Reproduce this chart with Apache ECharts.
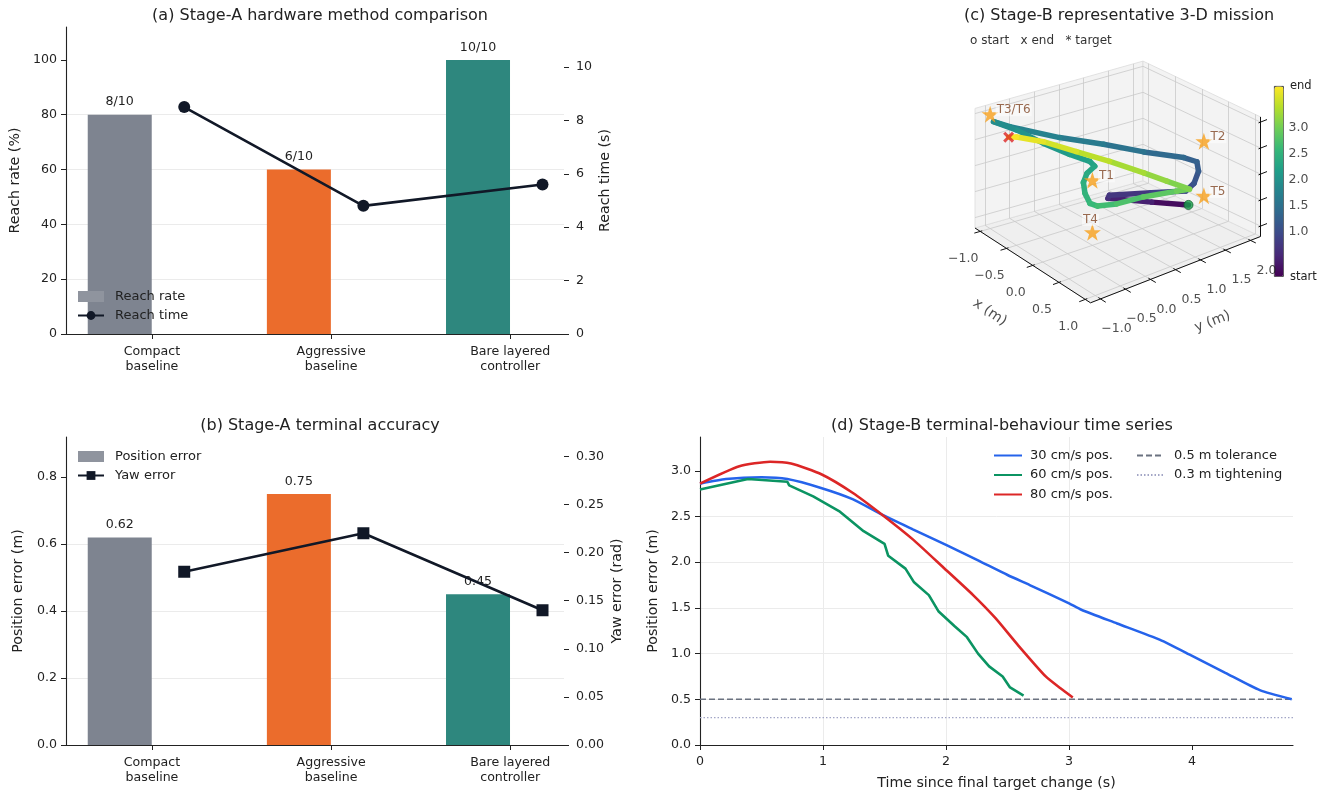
<!DOCTYPE html>
<html><head><meta charset="utf-8">
<script src="https://cdn.jsdelivr.net/npm/echarts@6/dist/echarts.min.js"></script>
<style>html,body{margin:0;padding:0;background:#fff}#c{width:1326px;height:796px}</style>
</head><body><div id="c"></div>
<script>
// ---------------- data: panels (a) and (b) ----------------
const METHODS = ['Compact\nbaseline', 'Aggressive\nbaseline', 'Bare layered\ncontroller'];
const REACH_RATE = [80, 60, 100];
const REACH_LABELS = ['8/10', '6/10', '10/10'];
const REACH_TIME = [8.5, 4.8, 5.6];
const POS_ERR = [0.62, 0.75, 0.45];
const YAW_ERR = [0.18, 0.22, 0.14];
const BAR_COLORS = ['#7e8490', '#eb6c2c', '#2e877e'];
const RATE_TICKS = [0, 20, 40, 60, 80, 100];
const TIME_TICKS = [0, 2, 4, 6, 8, 10];
const POS_TICKS = [0, 0.2, 0.4, 0.6, 0.8];
const YAW_TICKS = [0, 0.05, 0.10, 0.15, 0.20, 0.25, 0.30];

// ---------------- data: panel (d) ----------------
const T30 = [0, 0.21, 0.5, 0.71, 0.99, 1.24, 1.48, 1.73, 2.0, 2.26, 2.5, 2.68, 3.0, 3.1, 3.39, 3.74, 4.0, 4.27, 4.55, 4.81];
const E30 = [2.86, 2.91, 2.93, 2.91, 2.81, 2.69, 2.52, 2.36, 2.19, 2.02, 1.86, 1.75, 1.55, 1.48, 1.33, 1.15, 0.975, 0.79, 0.60, 0.50];
const T60 = [0, 0.39, 0.71, 0.725, 0.92, 1.13, 1.33, 1.50, 1.53, 1.67, 1.74, 1.86, 1.94, 2.07, 2.17, 2.26, 2.35, 2.46, 2.52, 2.63];
const E60 = [2.795, 2.91, 2.88, 2.84, 2.72, 2.56, 2.34, 2.20, 2.07, 1.93, 1.78, 1.64, 1.46, 1.30, 1.18, 1.00, 0.86, 0.75, 0.63, 0.54];
const T80 = [0, 0.32, 0.57, 0.74, 0.99, 1.24, 1.48, 1.73, 1.98, 2.22, 2.40, 2.58, 2.81, 2.93, 3.03];
const E80 = [2.86, 3.05, 3.10, 3.08, 2.96, 2.76, 2.52, 2.25, 1.94, 1.64, 1.39, 1.10, 0.75, 0.62, 0.52];
const TOLERANCE = 0.5;
const TIGHTENING = 0.3;
const D_TIME_MAX = 4.82;
const D_ERR_MAX = 3.37;
const D_X_TICKS = [0, 1, 2, 3, 4];
const D_Y_TICKS = [0, 0.5, 1.0, 1.5, 2.0, 2.5, 3.0];

// ---------------- data: panel (c) 3-D mission ----------------
const XLIM = [-1.1, 1.1], YLIM = [-1.2, 2.2], ZLIM = [0.8, 3.1];
const X_TICKS = [-1.0, -0.5, 0.0, 0.5, 1.0];
const Y_TICKS = [-1.0, -0.5, 0.0, 0.5, 1.0, 1.5, 2.0];
const Z_TICKS = [1.0, 1.5, 2.0, 2.5, 3.0];
const TRAJ = [
  [0.62, 1.27, 1.50], [0.37, 0.80, 1.58], [0.05, 0.26, 1.65], [0.05, 0.29, 1.70],
  [0.41, 0.75, 1.80], [0.72, 1.11, 1.88], [0.79, 1.20, 2.03], [0.79, 1.29, 2.23],
  [0.74, 1.31, 2.38], [0.67, 1.12, 2.49], [0.37, 0.64, 2.60], [0.03, 0.19, 2.70],
  [-0.32, -0.32, 2.78], [-0.72, -0.90, 2.91], [-0.86, -1.08, 2.97], [-0.66, -0.82, 2.86],
  [-0.37, -0.59, 2.72], [-0.11, -0.34, 2.59], [0.07, -0.13, 2.50], [0.10, -0.06, 2.40],
  [0.03, -0.14, 2.25], [-0.02, -0.16, 2.05], [0.00, -0.15, 1.85], [0.03, -0.08, 1.65],
  [0.04, 0.06, 1.56], [0.13, 0.35, 1.56], [0.22, 0.79, 1.60], [0.38, 1.29, 1.63],
  [0.48, 1.44, 1.67], [0.38, 1.09, 1.89], [0.21, 0.81, 2.05], [-0.06, 0.41, 2.25],
  [-0.34, 0.04, 2.39], [-0.62, -0.33, 2.52], [-0.79, -0.69, 2.61], [-0.78, -0.86, 2.66]
];
const TRAJ_PROGRESS = [0.00, 0.06, 0.12, 0.14, 0.18, 0.22, 0.25, 0.28, 0.30, 0.32, 0.36, 0.40,
  0.43, 0.46, 0.48, 0.50, 0.52, 0.55, 0.57, 0.58, 0.60, 0.62, 0.64, 0.66, 0.68, 0.70, 0.73,
  0.76, 0.79, 0.82, 0.85, 0.88, 0.92, 0.95, 0.98, 1.00];
const TARGET_NAMES = ['T1', 'T2', 'T3/T6', 'T4', 'T5'];
const TARGETS = [[0, 0, 2.05], [0.6, 1.6, 2.6], [-1.0, -1.0, 3.0], [0, 0, 1.05], [0.6, 1.6, 1.55]];
const START = [0.62, 1.27, 1.50];
const END = [-0.78, -0.86, 2.66];
const VIRIDIS = ['#440154', '#482878', '#3e4989', '#31688e', '#26828e', '#1f9e89', '#35b779', '#6ece58', '#b5de2b', '#fde725'];

// ---------------- projection (view of the 3-D box, with a small far-corner foreshortening) ----------------
const VIEW = {o: [45, 198], ex: [52.5, 34], ey: [50, -19.5], ez: [0, -52], far: [-2, 19]};
function proj(p) {
  const dx = p[0] - XLIM[0], dy = p[1] - YLIM[0], dz = p[2] - ZLIM[0];
  const u = dx / (XLIM[1] - XLIM[0]), v = dy / (YLIM[1] - YLIM[0]);
  const depth = (1 - u) * v;
  return [VIEW.o[0] + dx * VIEW.ex[0] + dy * VIEW.ey[0] + dz * VIEW.ez[0] + depth * VIEW.far[0],
          VIEW.o[1] + dx * VIEW.ex[1] + dy * VIEW.ey[1] + dz * VIEW.ez[1] + depth * VIEW.far[1]];
}
const X0 = XLIM[0], X1 = XLIM[1], Y0 = YLIM[0], Y1 = YLIM[1], Z0 = ZLIM[0], Z1 = ZLIM[1];
const PANES = [
  [[X0, Y0, Z0], [X1, Y0, Z0], [X1, Y1, Z0], [X0, Y1, Z0]],
  [[X0, Y0, Z0], [X0, Y1, Z0], [X0, Y1, Z1], [X0, Y0, Z1]],
  [[X0, Y1, Z0], [X1, Y1, Z0], [X1, Y1, Z1], [X0, Y1, Z1]]
].map(poly => poly.map(proj));
const gridSegs = [];
X_TICKS.forEach(x => { gridSegs.push([[x, Y0, Z0], [x, Y1, Z0]]); gridSegs.push([[x, Y1, Z0], [x, Y1, Z1]]); });
Y_TICKS.forEach(y => { gridSegs.push([[X0, y, Z0], [X1, y, Z0]]); gridSegs.push([[X0, y, Z0], [X0, y, Z1]]); });
Z_TICKS.forEach(z => { gridSegs.push([[X0, Y0, z], [X0, Y1, z]]); gridSegs.push([[X0, Y1, z], [X1, Y1, z]]); });
const axisSegs = [
  [[X0, Y0, Z0], [X1, Y0, Z0]], [[X1, Y0, Z0], [X1, Y1, Z0]], [[X1, Y1, Z0], [X1, Y1, Z1]]
];
X_TICKS.forEach(x => axisSegs.push([[x, Y0 + 0.04, Z0], [x, Y0 - 0.12, Z0]]));
Y_TICKS.forEach(y => axisSegs.push([[X1 - 0.04, y, Z0], [X1 + 0.1, y, Z0]]));
Z_TICKS.forEach(z => axisSegs.push([[X1, Y1 - 0.04, z], [X1, Y1 + 0.13, z]]));
const fmt1 = v => (v < 0 ? '\u2212' : '') + Math.abs(v).toFixed(1);
const shifted = (p, dx, dy) => { const q = proj(p); return [q[0] + dx, q[1] + dy]; };
const tickLabels = [];
X_TICKS.forEach(x => tickLabels.push({value: shifted([x, Y0, Z0], -17, 27), name: fmt1(x)}));
Y_TICKS.forEach(y => tickLabels.push({value: shifted([X1, y, Z0], 16, 30), name: fmt1(y)}));
Z_TICKS.forEach(z => tickLabels.push({value: shifted([X1, Y1, z], 38, 6), name: fmt1(z)}));
const trajSegs = [];
for (let i = 0; i < TRAJ.length - 1; i++) {
  const a = proj(TRAJ[i]), b = proj(TRAJ[i + 1]);
  trajSegs.push([a[0], a[1], b[0], b[1], (TRAJ_PROGRESS[i] + TRAJ_PROGRESS[i + 1]) / 2]);
}

// ---------------- styles ----------------
const FONT = 'DejaVu Sans';
const INK = '#222222';
const tx = (size) => ({fontFamily: FONT, fontSize: size, color: INK});
const axisLineStyle = {show: true, onZero: false, lineStyle: {color: INK, width: 1.1}};
const tickStyle = (vals) => ({show: true, length: 5, customValues: vals, lineStyle: {color: INK, width: 1}});
const splitStyle = {show: true, showMaxLine: false, showMinLine: false, lineStyle: {color: '#ebebeb', width: 1}};
const TICK_FS = 12.6, NAME_FS = 14.2, LEG_FS = 13, TITLE_FS = 16;

function methodXAxis(g) {
  return {gridIndex: g, type: 'value', min: -0.48, max: 2.3,
    axisLine: axisLineStyle, axisTick: tickStyle([0, 1, 2]),
    axisLabel: Object.assign(tx(TICK_FS), {customValues: [0, 1, 2], lineHeight: 15, margin: 10,
      formatter: v => METHODS[Math.round(v)]}),
    splitLine: {show: false}};
}
function leftY(g, max, interval, ticks, name, dec, gap) {
  return {gridIndex: g, type: 'value', position: 'left', min: 0, max: max, interval: interval,
    axisLine: axisLineStyle, axisTick: tickStyle(ticks),
    axisLabel: Object.assign(tx(TICK_FS), {customValues: ticks, margin: 9, formatter: v => v.toFixed(dec)}),
    splitLine: splitStyle,
    name: name, nameLocation: 'middle', nameGap: gap, nameRotate: 90, nameTextStyle: tx(NAME_FS)};
}
function rightY(g, max, interval, ticks, name, dec, gap) {
  return {gridIndex: g, type: 'value', position: 'right', min: 0, max: max, interval: interval,
    axisLine: {show: false, onZero: false}, axisTick: tickStyle(ticks),
    axisLabel: Object.assign(tx(TICK_FS), {customValues: ticks, margin: 12, formatter: v => v.toFixed(dec)}),
    splitLine: {show: false},
    name: name, nameLocation: 'middle', nameGap: gap, nameRotate: 90, nameTextStyle: tx(NAME_FS)};
}
const titleStyle = Object.assign(tx(TITLE_FS), {fontWeight: 'normal'});
const legText = (gap) => Object.assign(tx(LEG_FS), {padding: [0, 0, 0, gap]});

const LINE_DARK = '#111827';
const option = {
  animation: false,
  backgroundColor: '#ffffff',
  title: [
    {text: '(a) Stage-A hardware method comparison', left: 315, top: 3, textAlign: 'center', textStyle: titleStyle},
    {text: '(b) Stage-A terminal accuracy', left: 315, top: 413, textAlign: 'center', textStyle: titleStyle},
    {text: '(c) Stage-B representative 3-D mission', left: 1114, top: 3, textAlign: 'center', textStyle: titleStyle},
    {text: '(d) Stage-B terminal-behaviour time series', left: 997, top: 413, textAlign: 'center', textStyle: titleStyle}
  ],
  grid: [
    {left: 66, top: 27, width: 498, height: 307},
    {left: 66, top: 437, width: 498, height: 308},
    {left: 700, top: 437, width: 593, height: 308},
    {left: 930, top: 30, width: 396, height: 320}
  ],
  legend: [
    {left: 77, top: 290, padding: 0, orient: 'vertical', itemWidth: 26, itemHeight: 11, itemGap: 6, selectedMode: false,
      textStyle: legText(6), data: [{name: 'Reach rate', icon: 'rect', itemStyle: {color: '#8f949e'}}, {name: 'Reach time'}]},
    {left: 77, top: 450, padding: 0, orient: 'vertical', itemWidth: 26, itemHeight: 11, itemGap: 6, selectedMode: false,
      textStyle: legText(6), data: [{name: 'Position error', icon: 'rect', itemStyle: {color: '#8f949e'}}, {name: 'Yaw error'}]},
    {left: 993, top: 449, padding: 0, orient: 'vertical', itemWidth: 28, itemHeight: 10, itemGap: 6.5, selectedMode: false,
      itemStyle: {opacity: 0}, textStyle: legText(3), data: ['30 cm/s pos.', '60 cm/s pos.', '80 cm/s pos.']},
    {left: 1136, top: 449, padding: 0, orient: 'vertical', itemWidth: 26, itemHeight: 10, itemGap: 6.5, selectedMode: false,
      itemStyle: {opacity: 0}, textStyle: legText(6), data: ['0.5 m tolerance', '0.3 m tightening']}
  ],
  visualMap: [{
    type: 'continuous', min: 0, max: 1, dimension: 4, seriesIndex: 12,
    inRange: {color: VIRIDIS}, orient: 'vertical', left: 1274, top: 86,
    itemWidth: 9, itemHeight: 190, calculable: false, hoverLink: false, realtime: false,
    text: null, showLabel: false, padding: 0, borderColor: '#111', borderWidth: 0.8
  }],
  xAxis: [
    methodXAxis(0), methodXAxis(1),
    {gridIndex: 2, type: 'value', min: 0, max: D_TIME_MAX, interval: 1,
      axisLine: axisLineStyle, axisTick: tickStyle(D_X_TICKS),
      axisLabel: Object.assign(tx(TICK_FS), {customValues: D_X_TICKS, margin: 10}),
      splitLine: splitStyle,
      name: 'Time since final target change (s)', nameLocation: 'middle', nameGap: 31, nameTextStyle: tx(NAME_FS)},
    {gridIndex: 3, type: 'value', min: 0, max: 396, show: false}
  ],
  yAxis: [
    leftY(0, 112, 20, RATE_TICKS, 'Reach rate (%)', 0, 44),
    rightY(0, 11.5, 2, TIME_TICKS, 'Reach time (s)', 0, 34),
    leftY(1, 0.92, 0.2, POS_TICKS, 'Position error (m)', 1, 41),
    rightY(1, 0.32, 0.05, YAW_TICKS, 'Yaw error (rad)', 2, 46),
    leftY(2, D_ERR_MAX, 0.5, D_Y_TICKS, 'Position error (m)', 1, 40),
    {gridIndex: 3, type: 'value', min: 0, max: 320, inverse: true, show: false}
  ],
  graphic: [
    {type: 'text', left: 970, top: 35, style: {text: 'o start   x end   * target', font: '12px "DejaVu Sans"', fill: '#333'}},
    {type: 'text', left: 1290, top: 80, style: {text: 'end', font: '11.5px "DejaVu Sans"', fill: '#222'}},
    {type: 'text', left: 1290, top: 271, style: {text: 'start', font: '11.5px "DejaVu Sans"', fill: '#222'}}
  ],
  series: [
    // 0 (a) bars
    {type: 'bar', name: 'Reach rate', xAxisIndex: 0, yAxisIndex: 0, barWidth: 64,
      itemStyle: {color: BAR_COLORS[0]},
      label: Object.assign(tx(TICK_FS), {show: true, position: 'top', distance: 6, formatter: p => REACH_LABELS[p.dataIndex]}),
      data: REACH_RATE.map((v, i) => ({value: [i - 0.18, v], itemStyle: {color: BAR_COLORS[i]}}))},
    // 1 (a) line
    {type: 'line', name: 'Reach time', xAxisIndex: 0, yAxisIndex: 1, symbol: 'circle', symbolSize: 12,
      lineStyle: {color: LINE_DARK, width: 2.6}, itemStyle: {color: LINE_DARK}, z: 5,
      data: REACH_TIME.map((v, i) => [i + 0.18, v])},
    // 2 (b) bars
    {type: 'bar', name: 'Position error', xAxisIndex: 1, yAxisIndex: 2, barWidth: 64,
      itemStyle: {color: BAR_COLORS[0]},
      label: Object.assign(tx(TICK_FS), {show: true, position: 'top', distance: 6, formatter: p => POS_ERR[p.dataIndex].toFixed(2)}),
      data: POS_ERR.map((v, i) => ({value: [i - 0.18, v], itemStyle: {color: BAR_COLORS[i]}}))},
    // 3 (b) line
    {type: 'line', name: 'Yaw error', xAxisIndex: 1, yAxisIndex: 3, symbol: 'rect', symbolSize: 12,
      lineStyle: {color: LINE_DARK, width: 2.6}, itemStyle: {color: LINE_DARK}, z: 5,
      data: YAW_ERR.map((v, i) => [i + 0.18, v])},
    // 4-6 (d) curves
    {type: 'line', name: '30 cm/s pos.', xAxisIndex: 2, yAxisIndex: 4, symbol: 'none', smooth: 0.2, z: 4,
      lineStyle: {color: '#2563eb', width: 2.6}, itemStyle: {color: '#2563eb'},
      data: T30.map((t, i) => [t, E30[i]])},
    {type: 'line', name: '60 cm/s pos.', xAxisIndex: 2, yAxisIndex: 4, symbol: 'none', z: 4,
      lineStyle: {color: '#0b9462', width: 2.6}, itemStyle: {color: '#0b9462'},
      data: T60.map((t, i) => [t, E60[i]])},
    {type: 'line', name: '80 cm/s pos.', xAxisIndex: 2, yAxisIndex: 4, symbol: 'none', smooth: 0.2, z: 4,
      lineStyle: {color: '#dc2626', width: 2.6}, itemStyle: {color: '#dc2626'},
      data: T80.map((t, i) => [t, E80[i]])},
    // 7-8 thresholds
    {type: 'line', name: '0.5 m tolerance', xAxisIndex: 2, yAxisIndex: 4, symbol: 'none', z: 3,
      lineStyle: {color: '#6b7280', width: 1.6, type: [6, 3]}, itemStyle: {color: '#6b7280'},
      data: [[0, TOLERANCE], [D_TIME_MAX, TOLERANCE]]},
    {type: 'line', name: '0.3 m tightening', xAxisIndex: 2, yAxisIndex: 4, symbol: 'none', z: 3,
      lineStyle: {color: '#a3a6c6', width: 1.3, type: [1.5, 2]}, itemStyle: {color: '#a3a6c6'},
      data: [[0, TIGHTENING], [D_TIME_MAX, TIGHTENING]]},
    // 9 panes
    {type: 'custom', xAxisIndex: 3, yAxisIndex: 5, silent: true, z: 1, clip: false,
      data: [[0, 0], [1, 0], [2, 0]],
      renderItem: (params, api) => {
        const poly = PANES[params.dataIndex].map(p => api.coord(p));
        return {type: 'polygon', shape: {points: poly},
          style: {fill: params.dataIndex === 0 ? '#efefef' : '#f3f3f3', stroke: '#dcdcdc', lineWidth: 0.8}};
      }},
    // 10 pane grid lines
    {type: 'lines', coordinateSystem: 'cartesian2d', xAxisIndex: 3, yAxisIndex: 5, silent: true, z: 2,
      lineStyle: {color: '#c9c9c9', width: 0.8, opacity: 1},
      data: gridSegs.map(s => ({coords: s.map(proj)}))},
    // 11 axis lines and ticks
    {type: 'lines', coordinateSystem: 'cartesian2d', xAxisIndex: 3, yAxisIndex: 5, silent: true, z: 3,
      lineStyle: {color: '#111', width: 1, opacity: 1},
      data: axisSegs.map(s => ({coords: s.map(proj)}))},
    // 12 trajectory coloured by progress
    {type: 'custom', xAxisIndex: 3, yAxisIndex: 5, silent: true, z: 4, clip: false,
      dimensions: ['x1', 'y1', 'x2', 'y2', 'p'], encode: {x: [0, 2], y: [1, 3]},
      data: trajSegs,
      renderItem: (params, api) => {
        const a = api.coord([api.value(0), api.value(1)]);
        const b = api.coord([api.value(2), api.value(3)]);
        return {type: 'line', shape: {x1: a[0], y1: a[1], x2: b[0], y2: b[1]},
          style: {stroke: api.visual('color'), lineWidth: 5.5, lineCap: 'round'}};
      }},
    // 13 targets
    {type: 'scatter', xAxisIndex: 3, yAxisIndex: 5, symbol: 'path://M50,0 L61.8,35.4 L99,35.4 L69,57.3 L80.4,92.7 L50,70.8 L19.6,92.7 L31,57.3 L1,35.4 L38.2,35.4 Z',
      symbolSize: 17, itemStyle: {color: '#f7a01c'}, z: 6, silent: true,
      label: {show: true, formatter: '{b}', position: 'right', distance: 0, offset: [-3, -4], fontFamily: FONT, fontSize: 12,
        color: '#7f4524', backgroundColor: 'rgba(255,255,255,0.65)', padding: [0, 1]},
      data: TARGETS.map((p, i) => ({value: proj(p), name: TARGET_NAMES[i],
        label: TARGET_NAMES[i] === 'T4' ? {position: 'top', offset: [-2, 2]} : {}}))},
    // 14 start
    {type: 'scatter', xAxisIndex: 3, yAxisIndex: 5, symbol: 'circle', symbolSize: 9, z: 6, silent: true,
      itemStyle: {color: '#16a34a', borderColor: '#0f5f2c', borderWidth: 1},
      data: [proj(START)]},
    // 15 end
    {type: 'scatter', xAxisIndex: 3, yAxisIndex: 5, z: 6, silent: true,
      symbol: 'path://M2,0 L5,3 L8,0 L10,2 L7,5 L10,8 L8,10 L5,7 L2,10 L0,8 L3,5 L0,2 Z',
      symbolSize: 11, itemStyle: {color: '#dc2626'}, data: [proj(END)]},
    // 16 tick labels
    {type: 'scatter', xAxisIndex: 3, yAxisIndex: 5, symbolSize: 0, silent: true, z: 6,
      label: {show: true, position: 'inside', formatter: '{b}', fontFamily: FONT, fontSize: 12.5, color: INK},
      data: tickLabels},
    // 17 axis names
    {type: 'scatter', xAxisIndex: 3, yAxisIndex: 5, symbolSize: 0, silent: true, z: 6,
      label: {show: true, position: 'inside', formatter: '{b}', fontFamily: FONT, fontSize: 14, color: INK},
      data: [
        {value: shifted([0, Y0, Z0], -43, 47), name: 'x (m)', label: {rotate: -34}},
        {value: shifted([X1, 0.5, Z0], 37, 52), name: 'y (m)', label: {rotate: 21}}
      ]}
  ]
};
const chart = echarts.init(document.getElementById('c'));
chart.setOption(option);
</script>
</body></html>
